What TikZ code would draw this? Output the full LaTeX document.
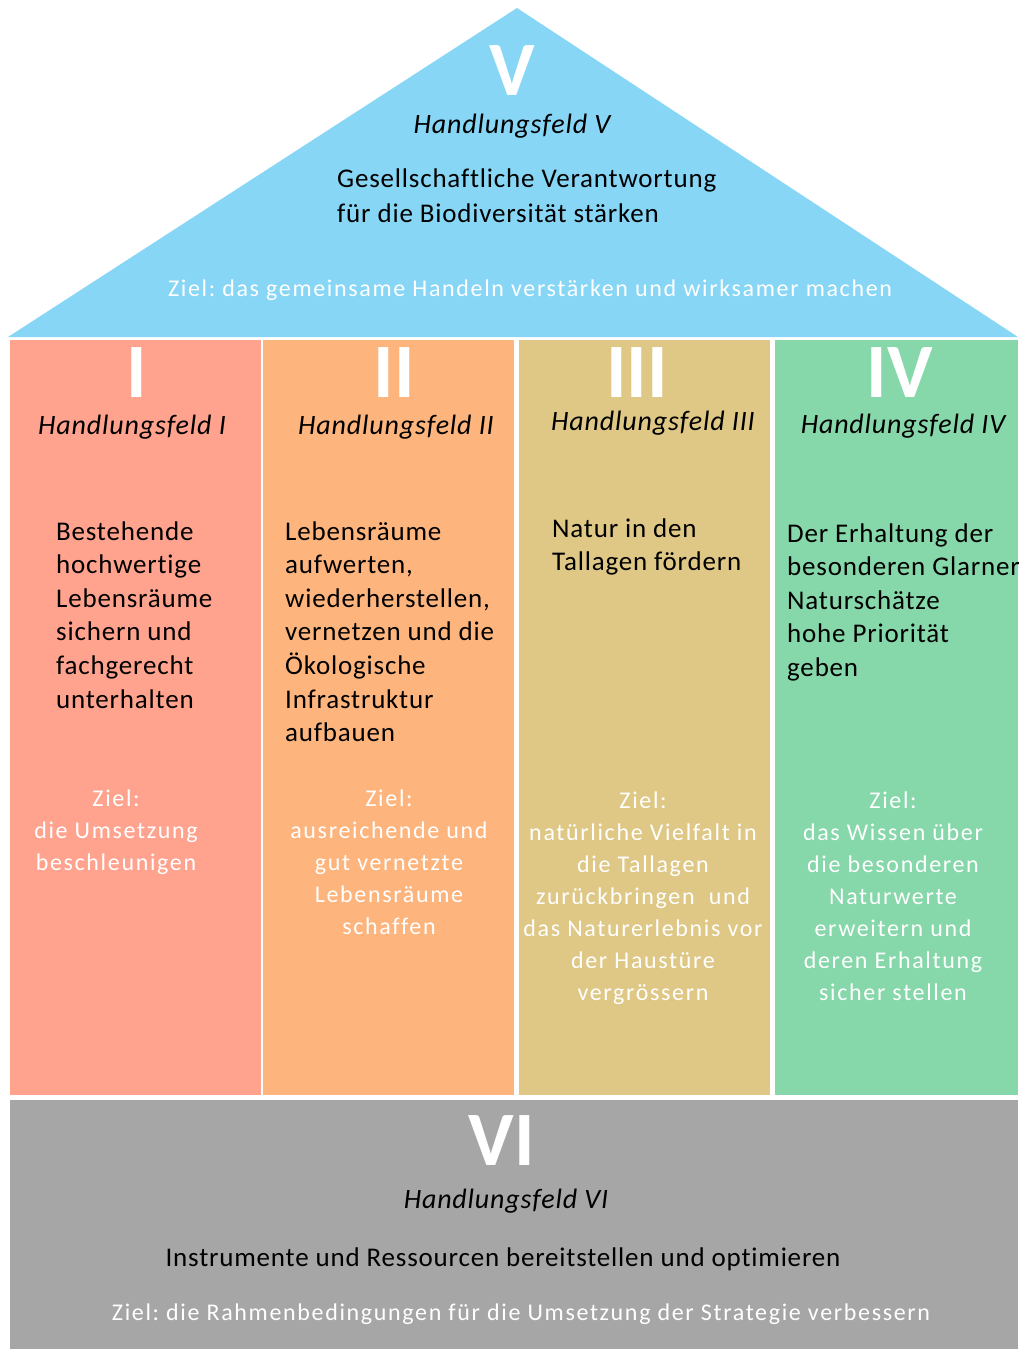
\documentclass[tikz,border=0pt]{standalone}
\usepackage{fontspec}
\setmainfont{Carlito}
\newfontfamily\bodyfont[LetterSpace=3,Ligatures=NoCommon]{Carlito}
\newfontfamily\zielfont[LetterSpace=6.9,Ligatures=NoCommon]{Carlito}
\newfontfamily\numfont{Carlito}
\definecolor{cblue}{HTML}{87D6F6}
\definecolor{csalmon}{HTML}{FFA28E}
\definecolor{corange}{HTML}{FDB47D}
\definecolor{ctan}{HTML}{DFC886}
\definecolor{cgreen}{HTML}{86D7A9}
\definecolor{cgray}{HTML}{A6A6A6}
\tikzset{
  numeral/.style={anchor=base, inner sep=0pt, text=white, font=\numfont\bfseries\fontsize{77}{77}\selectfont},
  hfeld/.style={anchor=base, inner sep=0pt, text=black, font=\frenchspacing\bodyfont\itshape\fontsize{28}{30}\selectfont},
  body/.style={anchor=base west, inner sep=0pt, text=black, align=left, font=\frenchspacing\bodyfont\fontsize{27}{33.6}\selectfont},
  ziel/.style={anchor=base, inner sep=0pt, text=white, align=center, font=\frenchspacing\zielfont\fontsize{24}{32}\selectfont},
}
\begin{document}
\begin{tikzpicture}[x=1pt,y=-1pt]
\useasboundingbox (0,0) rectangle (1018,1349);
% shapes
\fill[cblue] (517,8) -- (1018,337) -- (8,337) -- cycle;
\fill[csalmon] (10,340) rectangle (261,1095);
\fill[corange] (263,340) rectangle (514,1095);
\fill[ctan] (519,340) rectangle (770,1095);
\fill[cgreen] (775,340) rectangle (1018,1095);
\fill[cgray] (10,1100) rectangle (1018,1349);
% roof (multi-line nodes: base anchor = last line baseline)
\node[numeral] (numV) at (512,95) {V};
\node[hfeld] (hfV) at (512,133) {Handlungsfeld V};
\node[body] (txtV) at (337,222) {Gesellschaftliche Verantwortung\\[1.4pt]für die Biodiversität stärken};
\node[ziel] (zielV) at (530,296) {Ziel: das gemeinsame Handeln verstärken und wirksamer machen};
% column I
\node[numeral] (numI) at (137,397) {I};
\node[hfeld] (hfI) at (132,434) {Handlungsfeld I};
\node[body] (txtI) at (56,708) {Bestehende\\hochwertige\\Lebensräume\\sichern und\\fachgerecht\\unterhalten};
\node[ziel] (zielI) at (116,870) {Ziel:\\die Umsetzung\\beschleunigen};
% column II
\node[numeral] (numII) at (394,397) {II};
\node[hfeld] (hfII) at (396,434) {Handlungsfeld II};
\node[body] (txtII) at (285,741.6) {Lebensräume\\aufwerten,\\wiederherstellen,\\vernetzen und die\\Ökologische\\Infrastruktur\\aufbauen};
\node[ziel] (zielII) at (389,934) {Ziel:\\ausreichende und\\gut vernetzte\\Lebensräume\\schaffen};
% column III
\node[numeral] (numIII) at (637,397) {III};
\node[hfeld] (hfIII) at (653,430) {Handlungsfeld III};
\node[body] (txtIII) at (552,570.6) {Natur in den\\Tallagen fördern};
\node[ziel] (zielIII) at (643,1000) {Ziel:\\natürliche Vielfalt in\\die Tallagen\\zurückbringen\ \ und\\das Naturerlebnis vor\\der Haustüre\\vergrössern};
% column IV
\node[numeral] (numIV) at (900,397) {IV};
\node[hfeld] (hfIV) at (903,433) {Handlungsfeld IV};
\node[body] (txtIV) at (787,676.4) {Der Erhaltung der\\besonderen Glarner\\Naturschätze\\hohe Priorität\\geben};
\node[ziel] (zielIV) at (893,1000) {Ziel:\\das Wissen über\\die besonderen\\Naturwerte\\erweitern und\\deren Erhaltung\\sicher stellen};
% foundation
\node[numeral] (numVI) at (502,1165) {VI};
\node[hfeld] (hfVI) at (506,1208) {Handlungsfeld VI};
\node[body, anchor=base] (txtVI) at (503,1266) {Instrumente und Ressourcen bereitstellen und optimieren};
\node[ziel] (zielVI) at (521,1320) {Ziel: die Rahmenbedingungen für die Umsetzung der Strategie verbessern};
\end{tikzpicture}
\end{document}
